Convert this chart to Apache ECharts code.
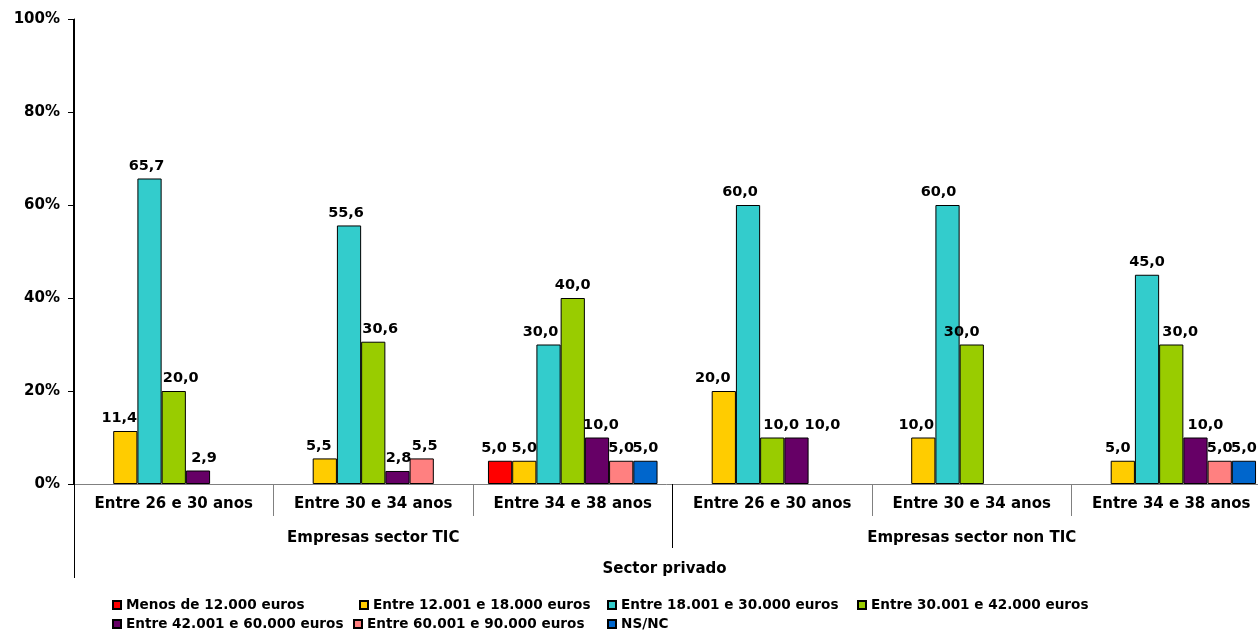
<!DOCTYPE html>
<html>
<head>
<meta charset="utf-8">
<script src="https://cdn.jsdelivr.net/npm/echarts@6/dist/echarts.min.js"></script>
<style>
html,body{margin:0;padding:0;background:#fff;}
#chart{width:1258px;height:631px;}
</style>
</head>
<body>
<div id="chart"></div>
<script>
const categories = ['Entre 26 e 30 anos', 'Entre 30 e 34 anos', 'Entre 34 e 38 anos', 'Entre 26 e 30 anos', 'Entre 30 e 34 anos', 'Entre 34 e 38 anos'];
const groups = ['Empresas sector TIC', 'Empresas sector non TIC'];
const topGroup = ['Sector privado'];
const seriesNames = ['Menos de 12.000 euros', 'Entre 12.001 e 18.000 euros', 'Entre 18.001 e 30.000 euros', 'Entre 30.001 e 42.000 euros', 'Entre 42.001 e 60.000 euros', 'Entre 60.001 e 90.000 euros', 'NS/NC'];
const menos12000 = [null, null, 5.0, null, null, null];
const e12001_18000 = [11.4, 5.5, 5.0, 20.0, 10.0, 5.0];
const e18001_30000 = [65.7, 55.6, 30.0, 60.0, 60.0, 45.0];
const e30001_42000 = [20.0, 30.6, 40.0, 10.0, 30.0, 30.0];
const e42001_60000 = [2.9, 2.8, 10.0, 10.0, null, 10.0];
const e60001_90000 = [null, 5.5, 5.0, null, null, 5.0];
const nsnc = [null, null, 5.0, null, null, 5.0];
const yTicks = [0, 20, 40, 60, 80, 100];

const seriesData = [menos12000, e12001_18000, e18001_30000, e30001_42000, e42001_60000, e60001_90000, nsnc];
const colors = ['#FF0000', '#FFCC00', '#33CCCC', '#99CC00', '#660066', '#FF8080', '#0066CC'];
const FONT = 'DejaVu Sans';

// horizontal nudges of the value labels (style only), per series x category
const labelDx = [
  [0, 0, -6, 0, 0, 0],
  [-6, -6, 0, -11, -7, -5],
  [-3, -3, -8, -8, -9, 0],
  [7, 7, 0, 9, -10, 9],
  [6, 1, 4, 26, 0, 10],
  [0, 3, 0, 0, 0, 0],
  [0, 0, 0, 0, 0, 0]
];

const legendPos = [[112, 597], [359, 597], [607, 597], [857, 597], [112, 616], [353, 616], [607, 616]];

const chart = echarts.init(document.getElementById('chart'), null, {renderer: 'canvas'});
const option = {
  animation: false,
  backgroundColor: '#fff',
  textStyle: {fontFamily: FONT},
  grid: {left: 74, top: 19, width: 1197, height: 465, containLabel: false, outerBoundsMode: 'none'},
  legend: seriesNames.map((n, i) => ({
    data: [n],
    left: legendPos[i][0],
    top: legendPos[i][1],
    padding: 0,
    icon: 'rect',
    itemWidth: 8,
    itemHeight: 8,
    selectedMode: false,
    textStyle: {fontFamily: FONT, fontWeight: 'bold', fontSize: 13.6, color: '#000', lineHeight: 16}
  })),
  xAxis: [
    {
      type: 'category', data: categories, gridIndex: 0, position: 'bottom',
      axisLine: {show: true, lineStyle: {color: '#808080', width: 1}},
      axisTick: {show: true, length: 32, lineStyle: {color: '#808080'}},
      axisLabel: {margin: 13, fontFamily: FONT, fontWeight: 'bold', fontSize: 15, color: '#000', interval: 0},
      splitLine: {show: false}
    },
    {
      type: 'category', data: groups, gridIndex: 0, position: 'bottom',
      axisLine: {show: false},
      axisTick: {show: true, length: 64, lineStyle: {color: '#000'}},
      axisLabel: {margin: 47, fontFamily: FONT, fontWeight: 'bold', fontSize: 15, color: '#000', interval: 0},
      splitLine: {show: true, interval: (idx) => idx === 1, lineStyle: {color: '#000', width: 2}}
    },
    {
      type: 'category', data: topGroup, gridIndex: 0, position: 'bottom',
      axisLine: {show: false},
      axisTick: {show: true, length: 94, lineStyle: {color: '#000'}},
      axisLabel: {margin: 78, padding: [0, 16, 0, 0], fontFamily: FONT, fontWeight: 'bold', fontSize: 15, color: '#000', interval: 0},
      splitLine: {show: false}
    }
  ],
  yAxis: {
    type: 'value', min: 0, max: 100, interval: 20,
    axisLine: {show: true, lineStyle: {color: '#000'}},
    axisTick: {show: true, length: 6, lineStyle: {color: '#000'}},
    axisLabel: {margin: 14, formatter: '{value}%', fontFamily: FONT, fontWeight: 'bold', fontSize: 15, color: '#000'},
    splitLine: {show: false}
  },
  series: seriesNames.map((n, i) => ({
    name: n,
    type: 'bar',
    xAxisIndex: 0,
    data: seriesData[i].map((v, j) => ({
      value: v,
      label: {offset: [labelDx[i][j], 0]}
    })),
    barGap: '0%',
    barCategoryGap: '15%',
    itemStyle: {color: colors[i], borderColor: '#000', borderWidth: 1},
    label: {
      show: true, position: 'top', distance: 5,
      fontFamily: FONT, fontWeight: 'bold', fontSize: 14.5, color: '#000',
      formatter: p => (p.value == null ? '' : Number(p.value).toFixed(1).replace('.', ','))
    }
  }))
};
chart.setOption(option);
</script>
</body>
</html>
